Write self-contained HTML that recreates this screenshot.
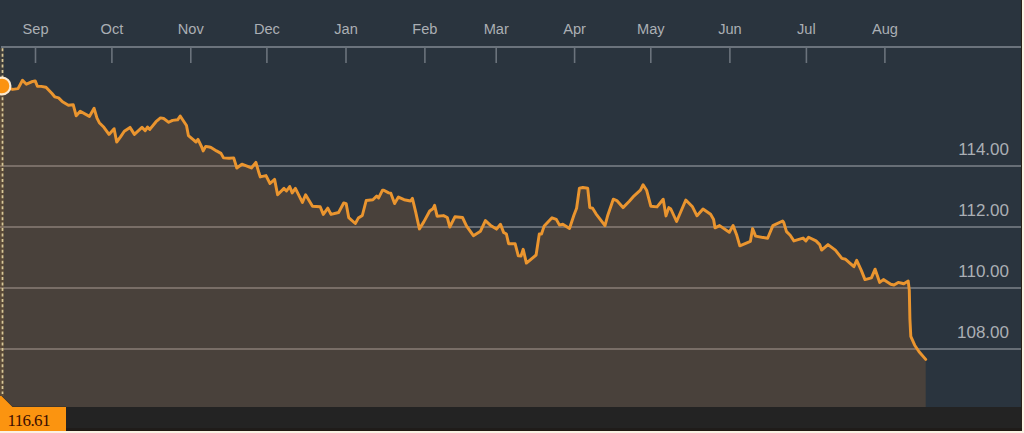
<!DOCTYPE html>
<html><head><meta charset="utf-8"><style>
html,body{margin:0;padding:0;background:#faf1e3;width:1024px;height:433px;overflow:hidden}
#c{position:absolute;left:0;top:0;width:1022px;height:431px;background:#2a343e}
svg{position:absolute;left:0;top:0}
.m{font-family:"Liberation Sans",sans-serif;font-size:15px;fill:#abafb4;text-anchor:middle}
.p{font-family:"Liberation Sans",sans-serif;font-size:17px;fill:#abafb4;text-anchor:end}
.v{font-family:"Liberation Serif",serif;font-size:17px;letter-spacing:-0.6px;fill:#3a0e02}
</style></head><body>
<div id="c">
<svg width="1022" height="431" viewBox="0 0 1022 431">
<g fill="#ffffff" fill-opacity="0.29"><rect x="0" y="165" width="1022" height="2"/><rect x="0" y="226" width="1022" height="2"/><rect x="0" y="287" width="1022" height="2"/><rect x="0" y="348" width="1022" height="2"/></g>
<path d="M0,86 L2,86 L8,88 L12.7,89.4 L18,88.6 L22.5,80.3 L26.4,84.2 L31.6,81.8 L35.2,80.9 L37.4,86.2 L41.2,86.4 L46,87.2 L52,93.5 L54.7,96.8 L58.6,97.9 L62.5,101.8 L68.4,105.2 L73.2,104.7 L76.2,115.8 L80.2,111.2 L89.4,116.4 L94.1,108.3 L97,118.1 L99.3,122.7 L103.9,127.3 L109,134.4 L114.1,128.7 L116.7,142 L120.5,136.9 L124.3,131.2 L130,127.4 L134.4,134.4 L142,127.4 L145.2,130.6 L147.5,127.1 L149.8,129.4 L156,121.7 L160.5,117.9 L163.7,118.5 L168.7,122.3 L172.5,120.4 L177.6,119.8 L180.2,116 L184,121.7 L186.5,125.5 L188.4,135.6 L192.9,139.4 L196,142 L198,139.4 L201.7,147 L203.2,150.9 L205.7,146.4 L209.4,147 L211.4,147.7 L216.5,150.9 L221,153.4 L223.5,157.9 L229.2,158.3 L233.7,157.9 L236.8,168 L241.9,164.2 L247,166.1 L251.4,168 L255.9,162.3 L259,173.1 L260.3,176.9 L266,175.6 L270,183.5 L274.6,179.4 L277.6,194.8 L284,188.4 L286.5,191 L289.7,186.5 L292.2,192.9 L295.4,188.4 L302.4,202.4 L305.6,194.8 L312.5,206.2 L320.2,206.8 L323.3,214.4 L327.8,208.1 L331,214.4 L338.6,212.5 L343.7,203 L346.2,203.7 L348.7,217.6 L355.3,223.5 L358.3,218.1 L362.3,215.5 L366.2,200.5 L372.9,199.8 L376.7,196 L378.6,197.9 L382.4,190.3 L383.8,190.2 L388.7,192.9 L390.8,193.3 L394.6,203.5 L398.4,197.1 L404.1,199.7 L410.5,201 L412.4,198.4 L415.6,211.7 L419.4,228.9 L423.8,221.9 L429.7,211 L432.9,208.8 L434.6,205.4 L437.1,216.2 L443.5,215.6 L447.3,217.5 L449.8,227 L454.9,216.8 L462.5,217.5 L466.6,226.2 L473.4,235.7 L480.5,231.2 L485.4,220.6 L490.6,225.4 L496.5,229.1 L500.5,224.3 L503.6,232.4 L506.4,234 L508.6,243.7 L515.1,243.7 L518.3,255.8 L521,256 L523.2,249.3 L526.4,263.1 L536.1,255 L539.3,234 L541.5,234 L544.2,225.9 L552,217.8 L556.3,219.4 L559.5,225.1 L562.8,224.3 L569.5,228.5 L573.9,215.2 L576.6,208.3 L579.4,188.2 L582.9,187.5 L587.7,188.2 L589.8,207.6 L592.6,208.3 L596,213.8 L605,225.6 L607.8,215.2 L613.3,199.2 L616.8,200.6 L623,207.6 L629.3,201.3 L634.1,195.8 L640.4,190.2 L643.1,184.7 L646.6,190.2 L650.8,206.2 L657,206.9 L663.2,199.2 L666,215.9 L668.8,207.6 L670.8,209 L676.6,221.5 L685.8,200 L692.5,206.8 L697,215.8 L703,209 L710.6,214.3 L713.6,219.5 L715,227.8 L719.6,225.6 L729.3,232.3 L733.1,225.6 L736.8,235.3 L739.8,245.8 L750.4,241.3 L752.6,228.6 L755.6,236.1 L767.6,238.3 L772.9,225.6 L782.6,221 L783.7,222.4 L786.5,231.6 L790.2,235.3 L793.9,240.9 L803.1,238.1 L805.9,240.9 L808.6,237.2 L816,240.9 L819.7,244.6 L821.6,250.1 L828,244.6 L835.4,250.1 L841.9,258.4 L845.6,259.3 L853.9,266.7 L856.7,260.3 L861.3,270.4 L865,279.6 L871.4,277.8 L875.1,269.2 L879.7,282.4 L883.4,279.6 L890.8,284.3 L894,285 L898.2,282.4 L901.9,283.3 L903.8,283.8 L908.2,281.1 L909.3,290.4 L909.9,318.9 L910.8,336.4 L914.7,345.2 L919.1,351.8 L925.7,359.4 L925.7,407 L0,407 Z" fill="rgb(186,114,49)" fill-opacity="0.22"/>
<rect x="0" y="407" width="1022" height="24" fill="#232323"/>
<rect x="1" y="46" width="1021" height="2" fill="#6b737c"/>
<g stroke="#6b737c" stroke-width="1.6"><line x1="35.5" y1="47" x2="35.5" y2="63" /><line x1="111.9" y1="47" x2="111.9" y2="63" /><line x1="190.8" y1="47" x2="190.8" y2="63" /><line x1="266.9" y1="47" x2="266.9" y2="63" /><line x1="346" y1="47" x2="346" y2="63" /><line x1="424.9" y1="47" x2="424.9" y2="63" /><line x1="496.2" y1="47" x2="496.2" y2="63" /><line x1="574.6" y1="47" x2="574.6" y2="63" /><line x1="650.8" y1="47" x2="650.8" y2="63" /><line x1="729.9" y1="47" x2="729.9" y2="63" /><line x1="806.4" y1="47" x2="806.4" y2="63" /><line x1="884.9" y1="47" x2="884.9" y2="63" /></g>
<g class="m"><text transform="translate(35.5,33.5) scale(0.975,1)">Sep</text><text transform="translate(111.9,33.5) scale(0.975,1)">Oct</text><text transform="translate(190.8,33.5) scale(0.975,1)">Nov</text><text transform="translate(266.9,33.5) scale(0.975,1)">Dec</text><text transform="translate(346,33.5) scale(0.975,1)">Jan</text><text transform="translate(424.9,33.5) scale(0.975,1)">Feb</text><text transform="translate(496.2,33.5) scale(0.975,1)">Mar</text><text transform="translate(574.6,33.5) scale(0.975,1)">Apr</text><text transform="translate(650.8,33.5) scale(0.975,1)">May</text><text transform="translate(729.9,33.5) scale(0.975,1)">Jun</text><text transform="translate(806.4,33.5) scale(0.975,1)">Jul</text><text transform="translate(884.9,33.5) scale(0.975,1)">Aug</text></g>
<g class="p"><text x="1009" y="155.4">114.00</text><text x="1009" y="216.4">112.00</text><text x="1009" y="277.4">110.00</text><text x="1009" y="338.4">108.00</text></g>
<rect x="0" y="48" width="4" height="348" fill="#c88a2a" fill-opacity="0.14"/>
<line x1="2.5" y1="48.2" x2="2.5" y2="394" stroke="#d8c89a" stroke-width="1.7" stroke-dasharray="3 2.45"/>
<polyline points="2,86 8,88 12.7,89.4 18,88.6 22.5,80.3 26.4,84.2 31.6,81.8 35.2,80.9 37.4,86.2 41.2,86.4 46,87.2 52,93.5 54.7,96.8 58.6,97.9 62.5,101.8 68.4,105.2 73.2,104.7 76.2,115.8 80.2,111.2 89.4,116.4 94.1,108.3 97,118.1 99.3,122.7 103.9,127.3 109,134.4 114.1,128.7 116.7,142 120.5,136.9 124.3,131.2 130,127.4 134.4,134.4 142,127.4 145.2,130.6 147.5,127.1 149.8,129.4 156,121.7 160.5,117.9 163.7,118.5 168.7,122.3 172.5,120.4 177.6,119.8 180.2,116 184,121.7 186.5,125.5 188.4,135.6 192.9,139.4 196,142 198,139.4 201.7,147 203.2,150.9 205.7,146.4 209.4,147 211.4,147.7 216.5,150.9 221,153.4 223.5,157.9 229.2,158.3 233.7,157.9 236.8,168 241.9,164.2 247,166.1 251.4,168 255.9,162.3 259,173.1 260.3,176.9 266,175.6 270,183.5 274.6,179.4 277.6,194.8 284,188.4 286.5,191 289.7,186.5 292.2,192.9 295.4,188.4 302.4,202.4 305.6,194.8 312.5,206.2 320.2,206.8 323.3,214.4 327.8,208.1 331,214.4 338.6,212.5 343.7,203 346.2,203.7 348.7,217.6 355.3,223.5 358.3,218.1 362.3,215.5 366.2,200.5 372.9,199.8 376.7,196 378.6,197.9 382.4,190.3 383.8,190.2 388.7,192.9 390.8,193.3 394.6,203.5 398.4,197.1 404.1,199.7 410.5,201 412.4,198.4 415.6,211.7 419.4,228.9 423.8,221.9 429.7,211 432.9,208.8 434.6,205.4 437.1,216.2 443.5,215.6 447.3,217.5 449.8,227 454.9,216.8 462.5,217.5 466.6,226.2 473.4,235.7 480.5,231.2 485.4,220.6 490.6,225.4 496.5,229.1 500.5,224.3 503.6,232.4 506.4,234 508.6,243.7 515.1,243.7 518.3,255.8 521,256 523.2,249.3 526.4,263.1 536.1,255 539.3,234 541.5,234 544.2,225.9 552,217.8 556.3,219.4 559.5,225.1 562.8,224.3 569.5,228.5 573.9,215.2 576.6,208.3 579.4,188.2 582.9,187.5 587.7,188.2 589.8,207.6 592.6,208.3 596,213.8 605,225.6 607.8,215.2 613.3,199.2 616.8,200.6 623,207.6 629.3,201.3 634.1,195.8 640.4,190.2 643.1,184.7 646.6,190.2 650.8,206.2 657,206.9 663.2,199.2 666,215.9 668.8,207.6 670.8,209 676.6,221.5 685.8,200 692.5,206.8 697,215.8 703,209 710.6,214.3 713.6,219.5 715,227.8 719.6,225.6 729.3,232.3 733.1,225.6 736.8,235.3 739.8,245.8 750.4,241.3 752.6,228.6 755.6,236.1 767.6,238.3 772.9,225.6 782.6,221 783.7,222.4 786.5,231.6 790.2,235.3 793.9,240.9 803.1,238.1 805.9,240.9 808.6,237.2 816,240.9 819.7,244.6 821.6,250.1 828,244.6 835.4,250.1 841.9,258.4 845.6,259.3 853.9,266.7 856.7,260.3 861.3,270.4 865,279.6 871.4,277.8 875.1,269.2 879.7,282.4 883.4,279.6 890.8,284.3 894,285 898.2,282.4 901.9,283.3 903.8,283.8 908.2,281.1 909.3,290.4 909.9,318.9 910.8,336.4 914.7,345.2 919.1,351.8 925.7,359.4" fill="none" stroke="#ea952f" stroke-width="2.95" stroke-linejoin="round" stroke-linecap="round"/>
<circle cx="2" cy="86" r="8.4" fill="#fb930f" stroke="#fbe9cf" stroke-width="2.2"/>
<path d="M1.5,396.6 L12.5,407.6 L66,407.6" fill="none" stroke="#2a2016" stroke-opacity="0.55" stroke-width="2"/>
<polygon points="0,396 1.5,396 12.5,407 66,407 66,431 0,431" fill="#fb9410"/>
<rect x="1021" y="0" width="1" height="431" fill="#2a2119"/>
<rect x="66" y="428" width="956" height="2" fill="#1c1814" fill-opacity="0.6"/>
<rect x="66" y="430" width="956" height="1" fill="#201912"/>
<text class="v" x="7.4" y="426">116.61</text>
</svg>
</div>
</body></html>
